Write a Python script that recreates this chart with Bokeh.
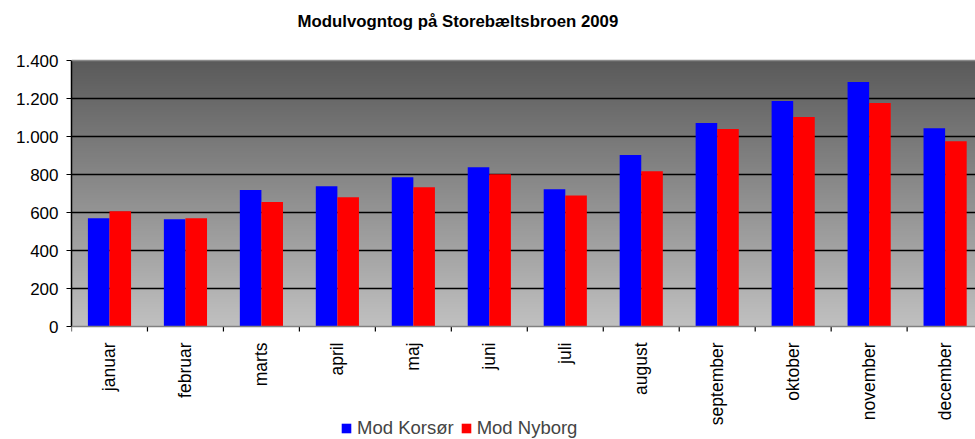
import math
import numpy as np
from bokeh.plotting import figure
from bokeh.models import FixedTicker, LinearColorMapper, Title, Span
from bokeh.embed import file_html
from bokeh.resources import INLINE

months = ["januar", "februar", "marts", "april", "maj", "juni", "juli",
          "august", "september", "oktober", "november", "december"]
korsor = [570, 565, 718, 738, 786, 838, 722, 902, 1071, 1187, 1287, 1044]
nyborg = [607, 570, 655, 680, 733, 801, 690, 817, 1039, 1102, 1176, 975]
y_ticks = [0, 200, 400, 600, 800, 1000, 1200, 1400]
y_labels = ["0", "200", "400", "600", "800", "1.000", "1.200", "1.400"]
series_names = ["Mod Korsør", "Mod Nyborg"]

FONT = "Liberation Sans"

# layout (pixels)
W, H = 975, 439
FRAME_TOP, LEFT = 35, 71
PLOT_TOP = 60                  # screen y of value 1400
ZERO_PX = 326                  # screen y of value 0
y_max = 1400
units_per_px = y_max / (ZERO_PX - PLOT_TOP)
y_min = -(H - ZERO_PX) * units_per_px
y_top = y_max + (PLOT_TOP - FRAME_TOP) * units_per_px

p = figure(width=W, height=H, output_backend="svg", toolbar_location=None,
           x_range=(0, 11.9), y_range=(y_min, y_top),
           x_axis_location=None,
           min_border_left=LEFT, min_border_right=0, min_border_top=FRAME_TOP,
           min_border_bottom=0, background_fill_color="white",
           border_fill_color="white")
p.outline_line_color = None

# gradient background
N = 256
arr = np.linspace(0, 1, N).reshape(N, 1)
lo, hi = 192, 90
pal = []
for t in np.linspace(0, 1, N):
    v = int(round(lo + (hi - lo) * t))
    pal.append("#%02x%02x%02x" % (v, v, v))
cm = LinearColorMapper(palette=pal, low=0, high=1)
p.image(image=[arr], x=0, y=0, dw=12, dh=y_max, color_mapper=cm, level="image")

centers = np.arange(len(months)) + 0.5
bw = 0.284
p.vbar(x=centers - bw / 2, top=korsor, width=bw, fill_color="#0000ff",
       line_color=None, legend_label=series_names[0])
p.vbar(x=centers + bw / 2, top=nyborg, width=bw, fill_color="#ff0000",
       line_color=None, legend_label=series_names[1])

# grid
p.xgrid.visible = False
p.ygrid.ticker = FixedTicker(ticks=y_ticks[1:-1])
p.ygrid.grid_line_color = "black"
p.ygrid.grid_line_width = 1.3
p.add_layout(Span(location=y_max, dimension="width", line_color="#8a8a8a",
                  line_width=1.5))

# y axis
p.yaxis.ticker = FixedTicker(ticks=y_ticks)
p.yaxis.bounds = (0, y_max)
p.yaxis.major_label_overrides = {t: l for t, l in zip(y_ticks, y_labels)}
p.yaxis.major_label_text_font = FONT
p.yaxis.major_label_text_font_size = "17px"
p.yaxis.major_label_text_color = "black"
p.yaxis.axis_line_color = "black"
p.yaxis.axis_line_width = 1.5
p.yaxis.major_tick_line_color = "black"
p.yaxis.major_tick_out = 5
p.yaxis.major_tick_in = 0
p.yaxis.minor_tick_line_color = None
p.yaxis.major_label_standoff = 8

# x axis (drawn at value 0 inside the extended frame)
p.add_layout(Span(location=0, dimension="width", line_color="#808080",
                  line_width=1.5))
bounds = np.arange(len(months) + 1)
tick_len = 5 * units_per_px
p.segment(x0=bounds, y0=np.zeros(len(bounds)), x1=bounds,
          y1=np.full(len(bounds), -tick_len), line_color="black", line_width=1.2)
p.text(x=centers, y=np.zeros(len(months)), text=months, angle=math.pi / 2,
       text_align="right", text_baseline="middle", y_offset=16,
       text_font={"value": FONT}, text_font_size={"value": "17.5px"},
       text_color="black")

# title
t = Title(text="Modulvogntog på Storebæltsbroen 2009", align="left",
          text_font=FONT, text_font_size="16.8px", text_font_style="bold",
          text_color="black", offset=226, standoff=10)
p.add_layout(t, "above")

# legend
lg = p.legend[0]
lg.orientation = "horizontal"
lg.location = (269, 0)
lg.label_text_font = FONT
lg.label_text_font_size = "18.5px"
lg.label_height = 15
lg.glyph_width = 12
lg.glyph_height = 12
lg.label_standoff = 5
lg.spacing = 6
lg.padding = 0
lg.margin = 0
lg.border_line_color = None
lg.background_fill_alpha = 0

open("out.html", "w").write(file_html(p, INLINE))
